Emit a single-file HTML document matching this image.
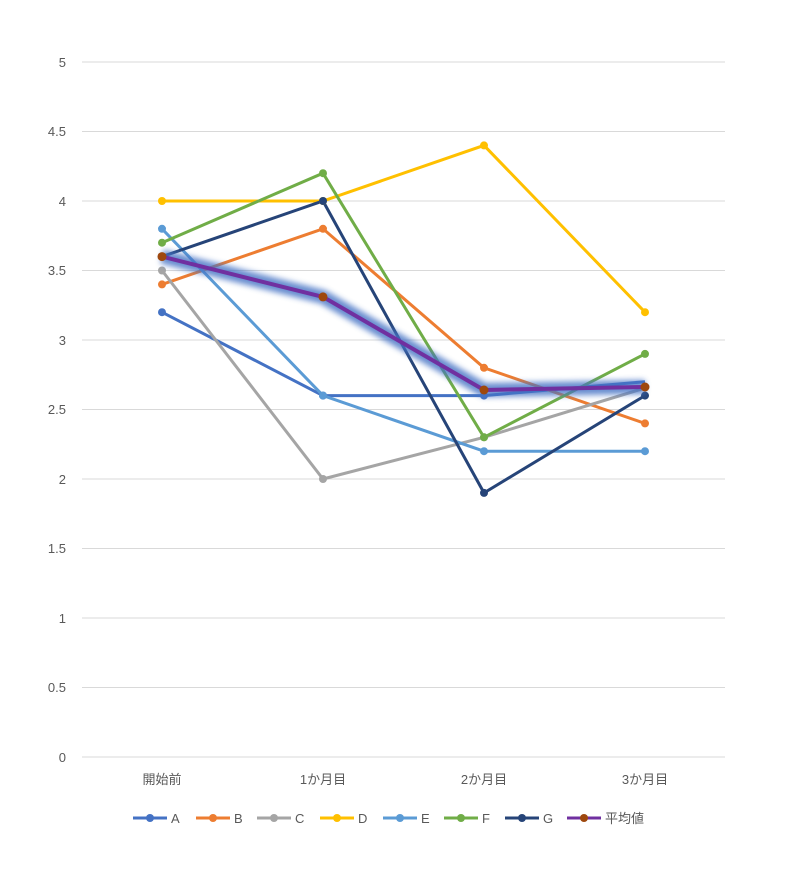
<!DOCTYPE html>
<html><head><meta charset="utf-8"><style>body{margin:0;background:#fff}svg{display:block}</style></head>
<body>
<svg width="800" height="877" xmlns="http://www.w3.org/2000/svg" font-family="Liberation Sans, Noto Sans CJK JP, sans-serif">
<defs><filter id="glow" x="-10%" y="-50%" width="120%" height="200%"><feGaussianBlur stdDeviation="3"/></filter></defs>
<g stroke="#d9d9d9" stroke-width="1">
<line x1="82" x2="725" y1="757" y2="757"/><line x1="82" x2="725" y1="687.5" y2="687.5"/>
<line x1="82" x2="725" y1="618" y2="618"/><line x1="82" x2="725" y1="548.5" y2="548.5"/>
<line x1="82" x2="725" y1="479" y2="479"/><line x1="82" x2="725" y1="409.5" y2="409.5"/>
<line x1="82" x2="725" y1="340" y2="340"/><line x1="82" x2="725" y1="270.5" y2="270.5"/>
<line x1="82" x2="725" y1="201" y2="201"/><line x1="82" x2="725" y1="131.5" y2="131.5"/>
<line x1="82" x2="725" y1="62" y2="62"/>
</g>
<g fill="#595959" font-size="13" text-anchor="end">
<text x="66" y="762">0</text><text x="66" y="692">0.5</text><text x="66" y="623">1</text><text x="66" y="553">1.5</text>
<text x="66" y="484">2</text><text x="66" y="414">2.5</text><text x="66" y="345">3</text><text x="66" y="275">3.5</text>
<text x="66" y="206">4</text><text x="66" y="136">4.5</text><text x="66" y="67">5</text>
</g>
<g fill="#595959" font-size="13" text-anchor="middle">
<text x="162" y="784">開始前</text><text x="323" y="784">1か月目</text><text x="484" y="784">2か月目</text><text x="645" y="784">3か月目</text>
</g>
<g fill="none" stroke-width="3">
<polyline stroke="#4472C4" points="162,312.2 323,395.6 484,395.6 645,381.7"/>
<polyline stroke="#ED7D31" points="162,284.4 323,228.8 484,367.8 645,423.4"/>
<polyline stroke="#A5A5A5" points="162,270.5 323,479 484,437.3 645,388"/>
<polyline stroke="#FFC000" points="162,201 323,201 484,145.4 645,312.2"/>
<polyline stroke="#5B9BD5" points="162,228.8 323,395.6 484,451.2 645,451.2"/>
<polyline stroke="#70AD47" points="162,242.7 323,173.2 484,437.3 645,353.9"/>
<polyline stroke="#264478" points="162,256.6 323,201 484,492.9 645,395.6"/>
</g>
<g stroke="none">
<g fill="#4472C4"><circle cx="162" cy="312.2" r="4"/><circle cx="323" cy="395.6" r="4"/><circle cx="484" cy="395.6" r="4"/></g>
<g fill="#ED7D31"><circle cx="162" cy="284.4" r="4"/><circle cx="323" cy="228.8" r="4"/><circle cx="484" cy="367.8" r="4"/><circle cx="645" cy="423.4" r="4"/></g>
<g fill="#A5A5A5"><circle cx="162" cy="270.5" r="4"/><circle cx="323" cy="479" r="4"/><circle cx="484" cy="437.3" r="4"/></g>
<g fill="#FFC000"><circle cx="162" cy="201" r="4"/><circle cx="323" cy="201" r="4"/><circle cx="484" cy="145.4" r="4"/><circle cx="645" cy="312.2" r="4"/></g>
<g fill="#5B9BD5"><circle cx="162" cy="228.8" r="4"/><circle cx="323" cy="395.6" r="4"/><circle cx="484" cy="451.2" r="4"/><circle cx="645" cy="451.2" r="4"/></g>
<g fill="#70AD47"><circle cx="162" cy="242.7" r="4"/><circle cx="323" cy="173.2" r="4"/><circle cx="484" cy="437.3" r="4"/><circle cx="645" cy="353.9" r="4"/></g>
<g fill="#264478"><circle cx="162" cy="256.6" r="4"/><circle cx="323" cy="201" r="4"/><circle cx="484" cy="492.9" r="4"/><circle cx="645" cy="395.6" r="4"/></g>
</g>
<polyline fill="none" stroke="#4472C4" stroke-width="14" opacity="0.8" filter="url(#glow)" stroke-linejoin="round" points="162,256.6 323,296.9 484,390 645,387"/>
<polyline fill="none" stroke="#7030A0" stroke-width="4" stroke-linejoin="round" points="162,256.6 323,296.9 484,390 645,387"/>
<g fill="#9E480E"><circle cx="162" cy="256.6" r="4.5"/><circle cx="323" cy="296.9" r="4.5"/><circle cx="484" cy="390" r="4.5"/><circle cx="645" cy="387" r="4.5"/></g>
<g font-size="13" fill="#595959" stroke-width="3">
<line x1="133" x2="167" y1="818" y2="818" stroke="#4472C4"/><circle cx="150" cy="818" r="4" fill="#4472C4"/><text x="171" y="823">A</text>
<line x1="196" x2="230" y1="818" y2="818" stroke="#ED7D31"/><circle cx="213" cy="818" r="4" fill="#ED7D31"/><text x="234" y="823">B</text>
<line x1="257" x2="291" y1="818" y2="818" stroke="#A5A5A5"/><circle cx="274" cy="818" r="4" fill="#A5A5A5"/><text x="295" y="823">C</text>
<line x1="320" x2="354" y1="818" y2="818" stroke="#FFC000"/><circle cx="337" cy="818" r="4" fill="#FFC000"/><text x="358" y="823">D</text>
<line x1="383" x2="417" y1="818" y2="818" stroke="#5B9BD5"/><circle cx="400" cy="818" r="4" fill="#5B9BD5"/><text x="421" y="823">E</text>
<line x1="444" x2="478" y1="818" y2="818" stroke="#70AD47"/><circle cx="461" cy="818" r="4" fill="#70AD47"/><text x="482" y="823">F</text>
<line x1="505" x2="539" y1="818" y2="818" stroke="#264478"/><circle cx="522" cy="818" r="4" fill="#264478"/><text x="543" y="823">G</text>
<line x1="567" x2="601" y1="818" y2="818" stroke="#7030A0"/><circle cx="584" cy="818" r="4" fill="#9E480E"/><text x="605" y="823">平均値</text>
</g>
</svg>
</body></html>
